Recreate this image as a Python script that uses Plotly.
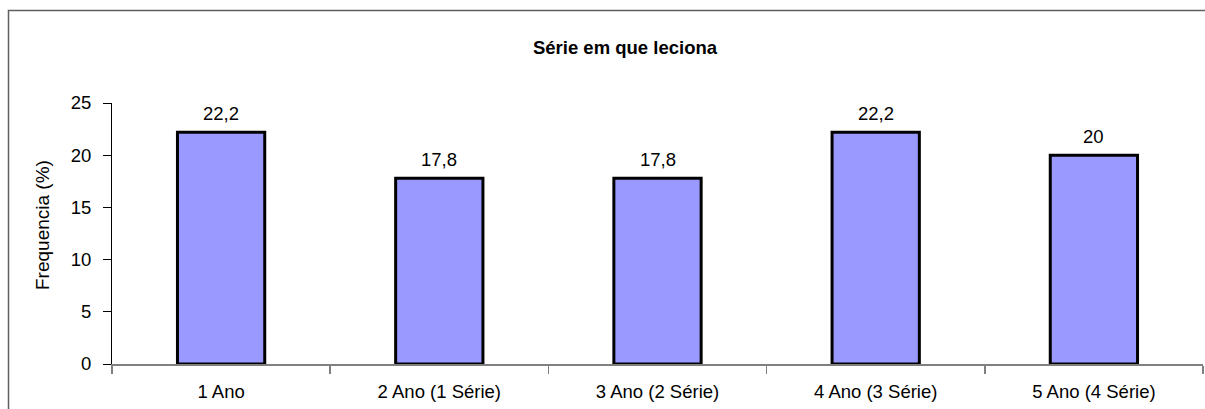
import plotly.graph_objects as go

categories = ["1 Ano", "2 Ano (1 Série)", "3 Ano (2 Série)", "4 Ano (3 Série)", "5 Ano (4 Série)"]
values = [22.2, 17.8, 17.8, 22.2, 20]
value_labels = ["22,2", "17,8", "17,8", "22,2", "20"]
y_ticks = [0, 5, 10, 15, 20, 25]

W, H = 1205, 409
L, R, T, B = 112, 2, 103, 45
pw, ph = W - L - R, H - T - B

def px_x(p):
    return (p - L) / pw

def px_y(p):
    return (H - B - p) / ph

FONT = "Liberation Sans, Arial, sans-serif"
FS = 18.5

fig = go.Figure()
fig.add_trace(go.Bar(
    x=categories, y=values, width=0.4,
    marker=dict(color="#9999FF", line=dict(color="black", width=3)),
    hoverinfo="skip",
))

for c, v, t in zip(categories, values, value_labels):
    fig.add_annotation(x=c, y=v, text=t, showarrow=False, yanchor="bottom",
                       yshift=6, font=dict(size=FS, color="black", family=FONT))

# y-axis title placed as text in the left margin
fig.add_annotation(xref="paper", yref="paper", x=px_x(42), y=px_y(225),
                   text="Frequencia (%)", textangle=-90, showarrow=False,
                   xanchor="center", yanchor="middle",
                   font=dict(size=19, color="black", family=FONT))

# chart-area frame (left and top edges visible; right/bottom fall outside the image)
bx, by = px_x(8.5), px_y(10.5)
bx2, by2 = px_x(1206), px_y(410)
fig.add_shape(type="path", xref="paper", yref="paper",
              path=f"M {bx},{by2} L {bx},{by} L {bx2},{by}",
              line=dict(color="#606060", width=1.5))

fig.update_layout(
    width=W, height=H,
    margin=dict(l=L, r=R, t=T, b=B, pad=0),
    paper_bgcolor="white", plot_bgcolor="white",
    font=dict(family=FONT, size=FS, color="black"),
    showlegend=False,
    bargap=0.6,
    dragmode=False,
    title=dict(text="<b>Série em que leciona</b>", x=625 / W, xref="container",
               xanchor="center", y=1 - 48 / H, yref="container", yanchor="middle",
               font=dict(size=FS, family=FONT, color="black")),
    xaxis=dict(type="category", showline=True, linecolor="#808080", linewidth=1.5,
               ticks="outside", tickson="boundaries", ticklen=8, tickcolor="#808080",
               tickwidth=1.5, showgrid=False, zeroline=False, ticklabelstandoff=10,
               tickfont=dict(size=FS, family=FONT, color="black")),
    yaxis=dict(range=[0, 25], tickvals=y_ticks, showline=True, linecolor="black",
               linewidth=1, ticks="outside", ticklen=8, tickcolor="black",
               showgrid=False, zeroline=False, ticklabelstandoff=8,
               tickfont=dict(size=FS, family=FONT, color="black")),
)

fig.write_html("out.html", config={"displayModeBar": False, "staticPlot": True},
               post_script="document.body.style.margin='0';document.body.style.overflow='hidden';document.documentElement.style.overflow='hidden';")
